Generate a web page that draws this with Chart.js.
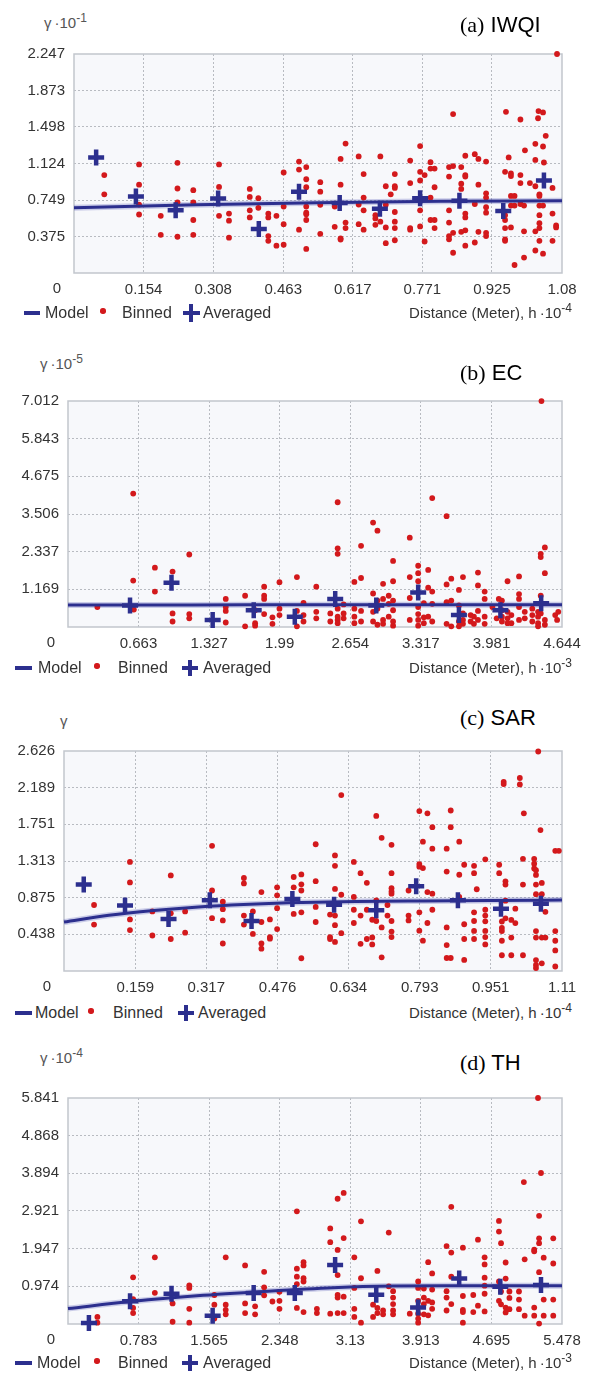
<!DOCTYPE html>
<html><head><meta charset="utf-8">
<script src="https://cdn.jsdelivr.net/npm/chart.js@4.4.0/dist/chart.umd.min.js"></script>
<style>
html,body{margin:0;padding:0;background:#fff;}
body{width:596px;height:1377px;position:relative;overflow:hidden;font-family:'Liberation Sans',Arial,sans-serif;color:#333;}
.abs{position:absolute;white-space:nowrap;}
canvas{position:absolute;left:0;}
.title{font-size:22px;line-height:26px;color:#000;}
.title .s{font-family:'Liberation Serif','Times New Roman',serif;}
.glab{font-size:15px;line-height:18px;color:#555;}
.glab sup{font-size:12px;vertical-align:6px;line-height:0;}
.leg{font-size:16px;line-height:19px;color:#333;}
.xt{font-size:15px;line-height:19px;color:#333;}
.xt sup{font-size:12px;vertical-align:6px;line-height:0;}
</style></head><body>
<script>
// ---------- tick labels ----------
const xTicksA = ['0','0.154','0.308','0.463','0.617','0.771','0.925','1.08'];
const yTicksA = ['0','0.375','0.749','1.124','1.498','1.873','2.247'];
const xTicksB = ['0','0.663','1.327','1.99','2.654','3.317','3.981','4.644'];
const yTicksB = ['0','1.169','2.337','3.506','4.675','5.843','7.012'];
const xTicksC = ['0','0.159','0.317','0.476','0.634','0.793','0.951','1.11'];
const yTicksC = ['0','0.438','0.875','1.313','1.751','2.189','2.626'];
const xTicksD = ['0','0.783','1.565','2.348','3.13','3.913','4.695','5.478'];
const yTicksD = ['0','0.974','1.947','2.921','3.894','4.868','5.841'];

// ---------- (a) IWQI ----------
const modelA = [[0,0.669],[0.27,0.70],[0.54,0.722],[0.81,0.735],[1.08,0.741]];
const averagedA = [[0.049,1.186],[0.137,0.784],[0.225,0.643],[0.319,0.764],[0.409,0.451],[0.498,0.834],[0.588,0.718],[0.677,0.659],[0.766,0.768],[0.853,0.741],[0.950,0.635],[1.040,0.949]];
const binnedA = [
[0.067,1.005],[0.067,0.807],
[0.144,1.114],[0.144,0.906],[0.144,0.702],[0.144,0.600],
[0.192,0.587],[0.192,0.392],
[0.229,1.130],[0.229,0.867],[0.229,0.725],[0.229,0.372],
[0.264,0.850],[0.264,0.725],[0.264,0.544],[0.264,0.392],
[0.321,1.114],[0.321,0.883],[0.321,0.587],
[0.343,0.610],[0.343,0.537],[0.343,0.362],
[0.389,0.863],[0.389,0.781],[0.389,0.643],[0.389,0.570],
[0.408,0.768],[0.408,0.669],
[0.430,0.610],[0.430,0.570],[0.430,0.379],[0.430,0.330],
[0.448,0.587],[0.448,0.280],
[0.464,1.031],[0.464,0.682],[0.464,0.501],[0.464,0.290],
[0.498,1.143],[0.498,1.061],[0.498,0.445],
[0.514,1.087],[0.514,0.962],[0.514,0.880],[0.514,0.682],[0.514,0.619],[0.514,0.603],[0.514,0.544],[0.514,0.247],
[0.545,0.932],[0.545,0.834],[0.545,0.699],[0.545,0.402],
[0.577,0.682],[0.577,0.474],
[0.590,1.170],[0.590,0.906],[0.590,0.356],[0.590,0.343],
[0.601,1.328],[0.601,0.517],[0.601,0.461],
[0.630,1.196],[0.630,0.702],[0.630,0.501],
[0.641,1.015],[0.641,0.774],[0.641,0.643],[0.641,0.445],
[0.667,0.593],[0.667,0.560],[0.667,0.494],
[0.678,1.196],[0.678,0.527],
[0.690,0.890],[0.690,0.699],[0.690,0.468],[0.690,0.306],
[0.701,0.807],[0.710,1.015],[0.710,0.890],[0.710,0.873],[0.710,0.626],[0.710,0.527],[0.710,0.461],[0.710,0.336],
[0.744,1.153],[0.744,0.923],[0.744,0.461],[0.744,0.445],
[0.766,1.302],[0.766,1.038],[0.766,0.949],[0.766,0.643],[0.766,0.478],
[0.776,1.005],[0.776,0.323],
[0.789,1.137],[0.789,1.071],[0.789,0.774],[0.789,0.544],
[0.798,1.071],[0.798,0.880],[0.798,0.544],[0.798,0.461],
[0.830,1.087],[0.830,0.989],[0.830,0.643],[0.830,0.517],[0.830,0.379],[0.830,0.346],
[0.839,1.631],[0.839,1.097],[0.839,0.412],[0.839,0.208],
[0.857,1.087],[0.857,0.916],[0.857,0.863],[0.857,0.422],
[0.866,1.203],[0.866,1.005],[0.866,0.989],[0.866,0.610],[0.866,0.570],[0.866,0.438],[0.866,0.280],
[0.887,1.219],[0.887,0.708],[0.887,0.313],
[0.895,1.170],[0.895,0.906],[0.895,0.422],
[0.912,1.143],[0.912,0.817],[0.912,0.774],[0.912,0.675],[0.912,0.619],[0.912,0.412],[0.912,0.379],
[0.954,1.038],[0.954,0.593],[0.954,0.544],[0.954,0.461],[0.954,0.346],[0.954,0.330],
[0.956,1.654],[0.962,1.186],
[0.967,1.021],[0.967,0.995],[0.967,0.791],[0.967,0.692],[0.967,0.468],
[0.975,0.791],[0.975,0.692],[0.975,0.082],
[0.988,1.575],[0.988,1.005],[0.988,0.923],[0.988,0.708],
[0.996,0.692],[0.996,0.428],[0.996,0.158],[0.998,1.259],
[1.009,0.923],
[1.021,1.325],[1.021,1.160],[1.021,0.890],[1.021,0.428],[1.021,0.231],
[1.027,1.588],[1.028,1.661],
[1.030,0.807],[1.030,0.791],[1.030,0.692],[1.030,0.593],[1.030,0.511],[1.030,0.461],[1.030,0.330],
[1.038,1.648],[1.038,1.298],[1.040,1.134],[1.038,0.692],[1.038,0.198],
[1.044,1.407],
[1.059,0.873],[1.059,0.610],[1.059,0.330],
[1.067,0.488],[1.067,0.468],
[1.069,2.247]
];

// ---------- (b) EC ----------
const modelB = [[0,0.68],[1.16,0.685],[2.32,0.688],[3.48,0.69],[4.644,0.69]];
const averagedB = [[0.583,0.67],[0.973,1.37],[1.360,0.22],[1.746,0.52],[2.132,0.32],[2.512,0.87],[2.898,0.67],[3.292,1.07],[3.675,0.37],[4.065,0.52],[4.448,0.74]];
const binnedB = [
[0.276,0.62],
[0.613,4.14],[0.613,1.44],[0.619,0.54],
[0.817,1.84],[0.817,1.10],
[0.983,1.72],[0.983,0.42],[0.983,0.17],
[1.140,2.25],[1.140,0.40],[1.140,0.27],
[1.483,0.87],[1.483,0.62],[1.483,0.50],[1.483,0.14],
[1.665,0.97],[1.665,0.02],
[1.759,0.52],[1.759,0.12],[1.759,0.04],
[1.844,1.25],[1.844,0.97],[1.844,0.87],[1.844,0.40],
[1.922,0.30],[1.922,0.10],
[1.988,1.39],[1.988,0.57],[1.988,0.37],
[2.152,1.55],[2.152,0.50],[2.152,0.02],
[2.214,0.75],[2.214,0.37],[2.214,0.17],
[2.334,1.25],[2.334,0.47],[2.334,0.27],
[2.466,0.42],[2.466,0.17],
[2.535,3.87],[2.535,2.44],[2.535,2.27],[2.535,0.57],[2.535,0.32],[2.535,0.22],[2.535,0.12],
[2.591,0.70],[2.591,0.42],[2.591,0.27],
[2.692,1.40],[2.692,0.57],[2.692,0.32],[2.692,0.12],
[2.755,2.52],[2.755,1.52],[2.755,0.50],[2.755,0.17],
[2.868,3.24],[2.868,1.04],[2.868,0.47],[2.868,0.17],
[2.909,2.99],[2.909,0.82],[2.909,0.57],[2.909,0.07],
[2.962,1.34],[2.962,0.87],[2.962,0.22],[2.962,0.10],
[3.015,0.97],[3.015,0.72],[3.015,0.32],
[3.056,2.05],[3.056,1.42],[3.056,0.82],[3.056,0.52],[3.056,0.17],[3.056,0.04],
[3.213,2.77],[3.213,1.55],[3.213,0.90],[3.213,0.22],
[3.292,1.90],[3.292,1.67],[3.292,1.42],[3.292,0.62],[3.292,0.40],[3.292,0.22],[3.292,0.04],
[3.345,0.74],[3.345,0.30],[3.345,0.12],
[3.386,1.77],[3.386,1.22],[3.386,0.32],
[3.424,4.00],[3.424,1.10],[3.424,0.72],[3.424,0.17],
[3.559,3.44],[3.559,1.32],[3.559,0.77],[3.559,0.10],
[3.603,1.50],[3.603,0.82],[3.603,0.02],
[3.675,1.15],[3.675,0.67],[3.675,0.17],[3.675,0.02],
[3.713,1.55],[3.713,0.42],[3.713,0.22],[3.713,0.10],
[3.785,0.37],[3.785,0.17],
[3.816,0.32],[3.816,0.10],
[3.854,1.69],[3.854,1.29],[3.854,0.50],[3.854,0.22],
[3.917,1.10],[3.917,0.87],[3.917,0.32],[3.917,0.10],
[3.990,0.62],[4.030,0.27],[4.050,0.87],
[4.079,0.82],[4.079,0.52],[4.079,0.32],[4.079,0.17],
[4.132,1.42],[4.132,0.47],[4.132,0.27],[4.132,0.12],
[4.168,0.37],[4.168,0.12],
[4.240,1.57],[4.240,1.02],[4.240,0.87],[4.240,0.62],[4.240,0.22],
[4.294,0.47],[4.294,0.27],
[4.365,0.57],[4.365,0.37],[4.365,0.17],
[4.419,0.47],[4.419,0.32],[4.419,0.12],[4.419,0.02],
[4.444,2.27],[4.444,2.17],[4.444,0.97],[4.444,0.42],
[4.451,7.01],
[4.483,2.47],[4.483,1.67],[4.483,0.22],[4.483,0.07],
[4.580,0.37],[4.598,0.22],[4.609,0.47]
];

// ---------- (c) SAR ----------
const modelC = [[0,0.585],[0.1,0.665],[0.2,0.722],[0.3,0.765],[0.4,0.795],[0.5,0.815],[0.65,0.83],[0.8,0.837],[0.95,0.842],[1.11,0.846]];
const averagedC = [[0.044,1.032],[0.136,0.783],[0.233,0.622],[0.325,0.844],[0.418,0.598],[0.509,0.859],[0.602,0.790],[0.696,0.725],[0.785,1.013],[0.878,0.844],[0.974,0.744],[1.063,0.802]];
const binnedC = [
[0.067,0.788],[0.067,0.554],
[0.147,1.302],[0.147,1.057],[0.147,0.616],[0.147,0.489],
[0.197,0.711],[0.197,0.424],
[0.238,1.141],[0.238,0.688],[0.238,0.382],
[0.270,0.711],[0.270,0.458],
[0.330,1.494],[0.330,0.961],[0.330,0.631],
[0.354,0.827],[0.354,0.738],[0.354,0.604],[0.354,0.328],
[0.401,1.110],[0.401,1.045],[0.401,0.662],[0.401,0.554],
[0.421,0.711],[0.421,0.443],
[0.440,0.942],[0.440,0.585],[0.440,0.328],[0.440,0.267],
[0.459,0.616],[0.459,0.405],[0.459,0.386],
[0.475,0.999],[0.475,0.903],[0.475,0.750],[0.475,0.501],
[0.512,1.122],[0.512,0.999],[0.512,0.681],
[0.529,1.153],[0.529,1.034],[0.529,0.961],[0.529,0.700],[0.529,0.152],
[0.561,1.513],[0.561,1.072],[0.561,0.765],[0.561,0.585],
[0.593,0.673],[0.593,0.405],[0.593,0.382],
[0.604,1.379],[0.604,1.256],[0.604,0.980],[0.604,0.662],[0.604,0.547],[0.604,0.347],
[0.618,2.100],[0.618,0.911],[0.618,0.451],
[0.646,1.302],[0.646,0.884],[0.646,0.731],[0.646,0.573],
[0.661,1.168],[0.661,0.662],[0.661,0.324],
[0.675,1.053],[0.675,0.731],[0.675,0.382],
[0.687,0.612],[0.687,0.401],[0.687,0.317],
[0.696,1.851],[0.696,0.842],[0.696,0.597],
[0.708,1.590],[0.708,0.520],[0.708,0.163],
[0.721,0.662],[0.721,0.788],
[0.730,1.506],[0.730,1.168],[0.730,0.988],[0.730,0.950],[0.730,0.923],[0.730,0.597],[0.730,0.470],[0.730,0.405],
[0.768,0.961],[0.768,0.662],[0.768,0.604],
[0.792,1.909],[0.792,1.276],[0.792,1.245],[0.792,0.700],[0.792,0.481],
[0.800,1.544],[0.800,1.229],[0.800,0.362],
[0.810,1.882],[0.810,0.942],[0.810,0.573],
[0.821,1.717],[0.821,1.460],[0.821,0.923],[0.821,0.731],
[0.853,1.460],[0.853,1.187],[0.853,0.520],[0.853,0.309],[0.853,0.155],
[0.862,1.916],[0.862,1.717],[0.862,0.155],
[0.881,1.544],[0.881,1.149],[0.881,0.884],
[0.892,1.268],[0.892,0.558],[0.892,0.382],[0.892,0.132],
[0.914,1.256],[0.914,1.168],[0.914,0.700],[0.914,0.597],[0.914,0.478],[0.914,0.382],
[0.920,0.976],
[0.939,1.333],[0.939,0.731],[0.939,0.662],[0.939,0.593],[0.939,0.478],[0.939,0.405],[0.939,0.317],
[0.970,1.268],[0.970,1.168],
[0.976,0.591],[0.976,0.514],[0.976,0.476],[0.976,0.361],[0.976,0.188],
[0.980,2.258],[0.980,2.231],
[0.984,1.070],[0.984,1.032],[0.984,0.840],[0.984,0.629],
[0.997,0.610],[0.997,0.399],[0.997,0.188],
[1.006,0.744],[1.006,0.572],
[1.016,2.304],[1.016,2.227],
[1.023,1.339],[1.023,1.032],[1.023,0.188],
[1.025,1.882],
[1.048,1.339],[1.048,1.281],[1.048,1.224],
[1.052,1.204],[1.052,1.147],[1.052,1.032],[1.052,0.917],[1.052,0.476],[1.052,0.399],[1.052,0.130],[1.052,0.073],[1.052,0.035],
[1.057,2.620],
[1.062,1.682],
[1.065,1.051],[1.065,0.917],[1.065,0.399],[1.065,0.092],
[1.073,0.706],[1.073,0.399],
[1.095,1.435],[1.095,0.476],[1.095,0.361],[1.095,0.246],[1.095,0.054],
[1.103,1.435]
];

// ---------- (d) TH ----------
const modelD = [[0,0.40],[0.7,0.58],[1.5,0.74],[2.3,0.86],[3.0,0.945],[3.6,0.98],[4.2,0.99],[5.478,0.99]];
const averagedD = [[0.232,0.025],[0.688,0.591],[1.148,0.782],[1.604,0.216],[2.059,0.799],[2.515,0.799],[2.962,1.522],[3.418,0.757],[3.882,0.424],[4.338,1.173],[4.794,0.965],[5.245,1.007]];
const binnedD = [
[0.326,0.183],[0.326,0.033],
[0.722,1.207],[0.722,0.641],[0.722,0.416],[0.722,0.283],
[0.963,1.722],[0.963,0.807],
[1.160,0.533],[1.160,0.058],
[1.345,0.999],[1.345,0.932],[1.345,0.391],[1.345,0.033],
[1.623,0.749],[1.623,0.499],[1.623,0.141],
[1.749,1.722],[1.749,0.499],[1.749,0.366],[1.749,0.250],
[1.964,1.514],[1.964,0.533],[1.964,0.283],
[2.075,0.458],[2.075,0.250],
[2.175,1.348],[2.175,0.949],[2.175,0.741],
[2.267,0.582],
[2.345,0.832],[2.345,0.599],[2.345,0.391],
[2.538,2.912],[2.538,1.431],[2.538,1.223],[2.538,1.032],[2.538,0.416],
[2.612,1.598],[2.612,1.514],[2.612,1.182],[2.612,1.098],[2.612,0.308],
[2.760,0.391],[2.760,0.283],
[2.908,2.471],[2.908,2.114],[2.908,0.266],
[2.990,3.237],[2.990,1.914],[2.990,1.265],[2.990,0.749],[2.990,0.682],[2.990,0.283],
[3.057,3.387],[3.057,2.222],[3.057,0.707],[3.057,0.283],
[3.175,1.722],[3.175,0.932],[3.175,0.391],[3.175,0.183],
[3.249,2.654],[3.249,1.182],[3.249,0.033],
[3.383,0.499],[3.383,0.183],
[3.431,1.373],[3.431,0.416],[3.431,0.283],
[3.494,0.349],[3.494,0.250],
[3.557,2.363],[3.557,0.974],
[3.605,0.849],[3.605,0.682],[3.605,0.516],[3.605,0.349],[3.605,0.250],
[3.790,0.266],
[3.883,1.098],[3.883,0.932],[3.883,0.599],[3.883,0.266],[3.883,0.141],[3.883,0.033],
[3.946,0.915],[3.946,0.682],[3.946,0.516],[3.946,0.250],
[3.994,1.598],[3.994,0.599],[3.994,0.225],
[4.038,1.306],[4.038,0.890],[4.038,0.558],[4.038,0.391],
[4.198,2.014],[4.198,0.849],[4.198,0.682],[4.198,0.349],
[4.250,3.029],[4.250,1.847],[4.250,1.223],[4.250,0.516],
[4.379,1.972],[4.379,0.724],[4.379,0.366],[4.379,0.308],[4.379,0.033],
[4.494,0.749],[4.494,0.308],
[4.546,2.180],[4.546,0.474],
[4.620,1.722],[4.620,1.539],[4.620,1.198],[4.620,0.990],[4.620,0.782],[4.620,0.325],
[4.779,2.663],[4.779,2.388],[4.779,1.098],[4.779,0.599],
[4.802,2.088],[4.802,0.840],[4.802,0.508],
[4.853,1.589],[4.853,1.173],[4.853,0.424],[4.853,0.300],
[4.895,0.840],[4.895,0.674],[4.895,0.383],
[5.001,0.840],[5.001,0.632],[5.001,0.383],
[5.055,3.669],
[5.064,1.672],[5.064,0.216],
[5.170,1.922],[5.170,1.880],[5.170,0.424],[5.170,0.216],
[5.212,5.841],
[5.224,2.796],[5.224,2.213],[5.224,2.088],[5.224,1.340],[5.224,0.010],
[5.245,3.902],
[5.275,1.714],[5.275,0.632],[5.275,0.216],
[5.381,2.213],[5.381,1.564],[5.381,0.632],[5.381,0.216]
];

// ---------- panels (data refs + layout) ----------
const panels = [
  {tag:'(a)', name:'IWQI', yExp:'-1', xExp:'-4', xTicks:xTicksA, yTicks:yTicksA, model:modelA, averaged:averagedA, binned:binnedA,
   L:74, R:562, T:46, B:273, titleY:25, gX:44, gY:22, legY:313, leg:[23.6,40,45,103,122,182.5,199.6,203]},
  {tag:'(b)', name:'EC', yExp:'-5', xExp:'-3', xTicks:xTicksB, yTicks:yTicksB, model:modelB, averaged:averagedB, binned:binnedB,
   L:68, R:562, T:393, B:627, titleY:373, gX:40, gY:363, legY:668, leg:[15,32,38,97,118,182,198,203]},
  {tag:'(c)', name:'SAR', yExp:null, xExp:'-4', xTicks:xTicksC, yTicks:yTicksC, model:modelC, averaged:averagedC, binned:binnedC,
   L:64, R:562, T:743, B:971, titleY:718, gX:60, gY:720, legY:1013, leg:[15,32,35,91,113,178,194,198]},
  {tag:'(d)', name:'TH', yExp:'-4', xExp:'-3', xTicks:xTicksD, yTicks:yTicksD, model:modelD, averaged:averagedD, binned:binnedD,
   L:68, R:562, T:1090, B:1324, titleY:1063, gX:40, gY:1057, legY:1363, leg:[15,32,37,97,118,182,198,203]}
];

const NAVY = '#2c2f8e';
const RED = '#d3191c';
const TICKFONT = {family:"'Liberation Sans', Arial, sans-serif", size:15};

const framePlugin = {
  id:'frame',
  beforeDraw(chart){
    const {ctx, chartArea:a} = chart;
    ctx.save(); ctx.fillStyle = '#f7f8fb';
    ctx.fillRect(a.left, a.top, a.right-a.left, a.bottom-a.top); ctx.restore();
  },
  beforeDatasetsDraw(chart){
    const {ctx, chartArea:a} = chart;
    ctx.save();
    ctx.strokeStyle = '#c2c6cd'; ctx.lineWidth = 1.5;
    ctx.strokeRect(a.left, a.top, a.right-a.left, a.bottom-a.top);
    ctx.fillStyle = '#333'; ctx.font = "15px 'Liberation Sans', Arial, sans-serif";
    ctx.textAlign = 'center'; ctx.textBaseline = 'middle';
    ctx.fillText('0', chart.scales.x.getPixelForValue(0) - 17, a.bottom + 16);
    ctx.restore();
  }
};

function el(tag, cls, html, style){
  const e = document.createElement(tag);
  if (cls) e.className = cls;
  if (html != null) e.innerHTML = html;
  Object.assign(e.style, style || {});
  document.body.appendChild(e);
  return e;
}

panels.forEach(P => {
  const H = (P.B - P.T) + 40;
  const cv = document.createElement('canvas');
  cv.width = 596; cv.height = H;
  cv.style.top = (P.T - 10) + 'px';
  cv.style.width = '596px'; cv.style.height = H + 'px';
  document.body.appendChild(cv);

  const xv = P.xTicks.map(Number), yv = P.yTicks.map(Number);
  const xMax = xv[xv.length-1], yMax = yv[yv.length-1];
  const toPts = arr => arr.map(([x,y]) => ({x, y}));
  const edge = (n) => (c) => (c.index === 0 || c.index === n-1) ? 'rgba(0,0,0,0)' : '#b8bbc1';

  new Chart(cv, {
    type:'scatter',
    data:{datasets:[
      {type:'line', data:toPts(P.model), borderColor:'rgba(100,104,190,0.3)', borderWidth:6, pointRadius:0, cubicInterpolationMode:'monotone', order:4, clip:false},
      {data:toPts(P.binned), pointStyle:'circle', pointRadius:2.9, backgroundColor:RED, borderWidth:0, order:3, clip:false},
      {type:'line', data:toPts(P.model), borderColor:NAVY, borderWidth:3, pointRadius:0, cubicInterpolationMode:'monotone', order:2, clip:false},
      {data:toPts(P.averaged), pointStyle:'cross', pointRadius:8, borderColor:NAVY, backgroundColor:NAVY, borderWidth:4.5, order:1, clip:false}
    ]},
    options:{
      responsive:false, animation:false, events:[],
      layout:{padding:{left:0, right:596-P.R, top:10, bottom:0}},
      plugins:{legend:{display:false}, tooltip:{enabled:false}},
      scales:{
        x:{type:'linear', min:0, max:xMax,
           afterBuildTicks: s => { s.ticks = xv.map(v => ({value:v})); },
           afterFit: s => { s.height = 30; },
           ticks:{autoSkip:false, maxRotation:0, padding:8, color:'#333', font:TICKFONT,
                  callback:(v,i) => i === 0 ? '' : P.xTicks[i]},
           grid:{color:edge(xv.length), drawTicks:false, lineWidth:1},
           border:{display:false, dash:[2,2]}},
        y:{type:'linear', min:0, max:yMax,
           afterBuildTicks: s => { s.ticks = yv.map(v => ({value:v})); },
           afterFit: s => { s.width = P.L; },
           ticks:{autoSkip:false, padding:9, color:'#333', font:TICKFONT,
                  callback:(v,i) => i === 0 ? '' : P.yTicks[i]},
           grid:{color:edge(yv.length), drawTicks:false, lineWidth:1},
           border:{display:false, dash:[2,2]}}
      }
    },
    plugins:[framePlugin]
  });

  // title
  el('div','abs title', '<span class="s">'+P.tag+'</span> '+P.name, {left:'460px', top:(P.titleY-13)+'px'});
  // gamma label
  el('div','abs glab', P.yExp ? 'γ&thinsp;·10<sup>'+P.yExp+'</sup>' : 'γ', {left:P.gX+'px', top:(P.gY-8)+'px'});
  // legend
  const g = P.leg, y = P.legY;
  el('div','abs', null, {left:g[0]+'px', top:(y-2)+'px', width:(g[1]-g[0])+'px', height:'4px', background:NAVY});
  el('div','abs leg', 'Model', {left:g[2]+'px', top:(y-10)+'px'});
  el('div','abs', null, {left:(g[3]-2.7)+'px', top:(y-4.7)+'px', width:'5.4px', height:'5.4px', borderRadius:'50%', background:RED});
  el('div','abs leg', 'Binned', {left:g[4]+'px', top:(y-10)+'px'});
  const cw = g[6]-g[5], cx = (g[5]+g[6])/2;
  el('div','abs', null, {left:g[5]+'px', top:(y-2)+'px', width:cw+'px', height:'4px', background:NAVY});
  el('div','abs', null, {left:(cx-2)+'px', top:(y-cw/2)+'px', width:'4px', height:cw+'px', background:NAVY});
  el('div','abs leg', 'Averaged', {left:g[7]+'px', top:(y-10)+'px'});
  el('div','abs xt', 'Distance (Meter), h&thinsp;·10<sup>'+P.xExp+'</sup>', {right:'24px', top:(y-10)+'px'});
});
</script>
</body></html>
